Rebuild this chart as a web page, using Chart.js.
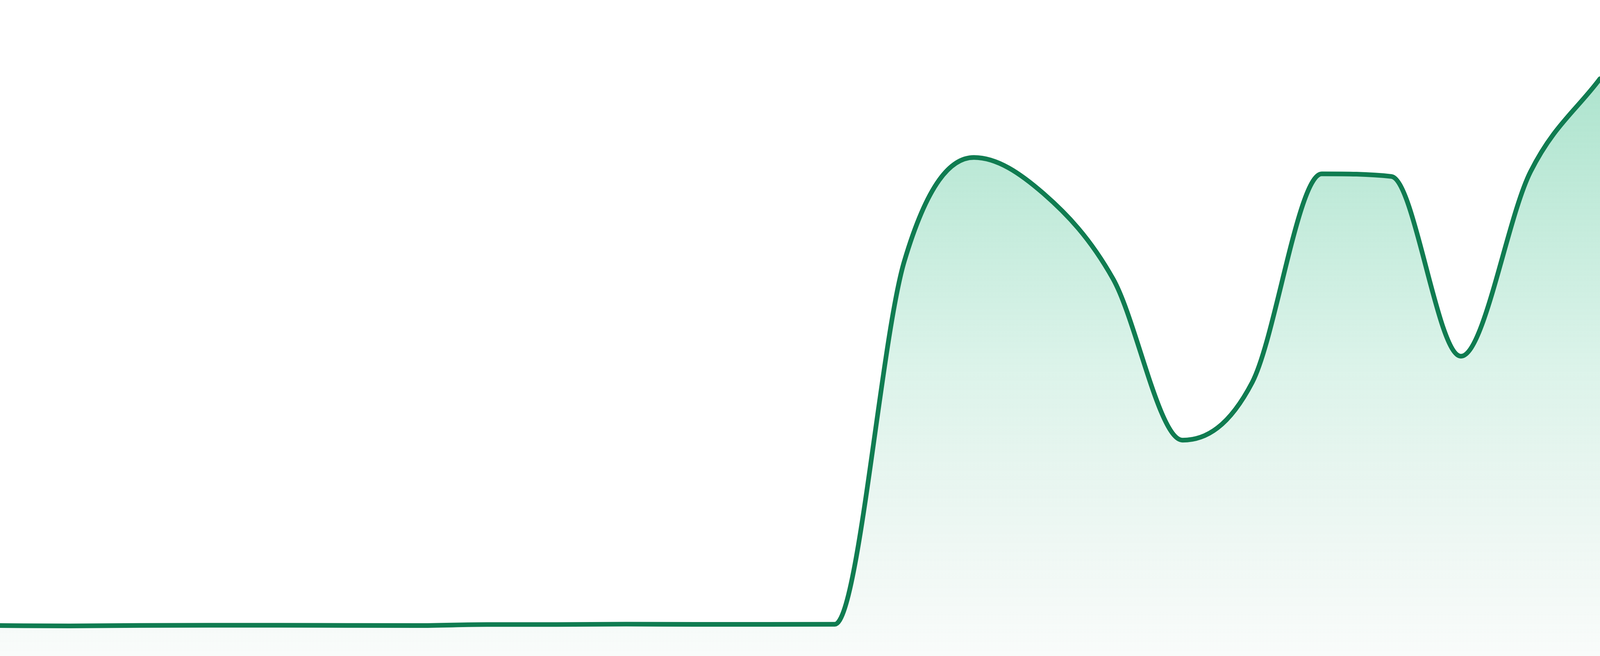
<!DOCTYPE html>
<html>
<head>
<meta charset="utf-8">
<script src="https://cdn.jsdelivr.net/npm/chart.js@4.4.1/dist/chart.umd.min.js"></script>
<style>
  html, body { margin: 0; padding: 0; background: #ffffff; overflow: hidden; }
  #wrap { position: fixed; left: 0; top: 0; width: 100vw; height: 100vh; }
  canvas { display: block; }
</style>
</head>
<body>
<div id="wrap"><canvas id="c"></canvas></div>
<script>
const categories = ["P1","P2","P3","P4","P5","P6","P7","P8","P9","P10","P11","P12",
                    "P13","P14","P15","P16","P17","P18","P19","P20","P21","P22","P23","P24"];
const seriesValues = [4.64, 4.58, 4.66, 4.69, 4.69, 4.66, 4.64, 4.80, 4.80, 4.86, 4.82, 4.82,
                      4.84, 60.2, 76.0, 70.5, 57.5, 32.9, 41.7, 73.5, 73.1, 45.7, 73.8, 88.0];
const yMin = 0;
const yMax = 100;

// line thickness: ~14 px in a 4800 px wide picture
const lineWidthCss = 14 * window.innerWidth / 4800;

const ctx = document.getElementById('c').getContext('2d');

function fillGradient(context) {
  const chart = context.chart;
  const area = chart.chartArea;
  if (!area) return 'rgba(30,180,120,0.2)';
  const g = chart.ctx.createLinearGradient(0, area.top, 0, area.bottom);
  g.addColorStop(0, 'rgba(30,180,120,0.41)');
  g.addColorStop(0.12, 'rgba(30,180,120,0.36)');
  g.addColorStop(0.56, 'rgba(30,180,120,0.155)');
  g.addColorStop(1, 'rgba(60,150,110,0.03)');
  return g;
}

new Chart(ctx, {
  type: 'line',
  data: {
    labels: categories,
    datasets: [{
      data: seriesValues,
      borderColor: '#107c51',
      borderWidth: lineWidthCss,
      backgroundColor: fillGradient,
      fill: 'start',
      pointRadius: 0,
      pointHoverRadius: 0,
      cubicInterpolationMode: 'monotone',
      borderCapStyle: 'round',
      borderJoinStyle: 'round'
    }]
  },
  options: {
    responsive: true,
    maintainAspectRatio: false,
    animation: false,
    layout: { padding: 0 },
    plugins: { legend: { display: false }, tooltip: { enabled: false } },
    scales: {
      x: { display: false, offset: false },
      y: { display: false, min: yMin, max: yMax }
    }
  }
});
</script>
</body>
</html>
